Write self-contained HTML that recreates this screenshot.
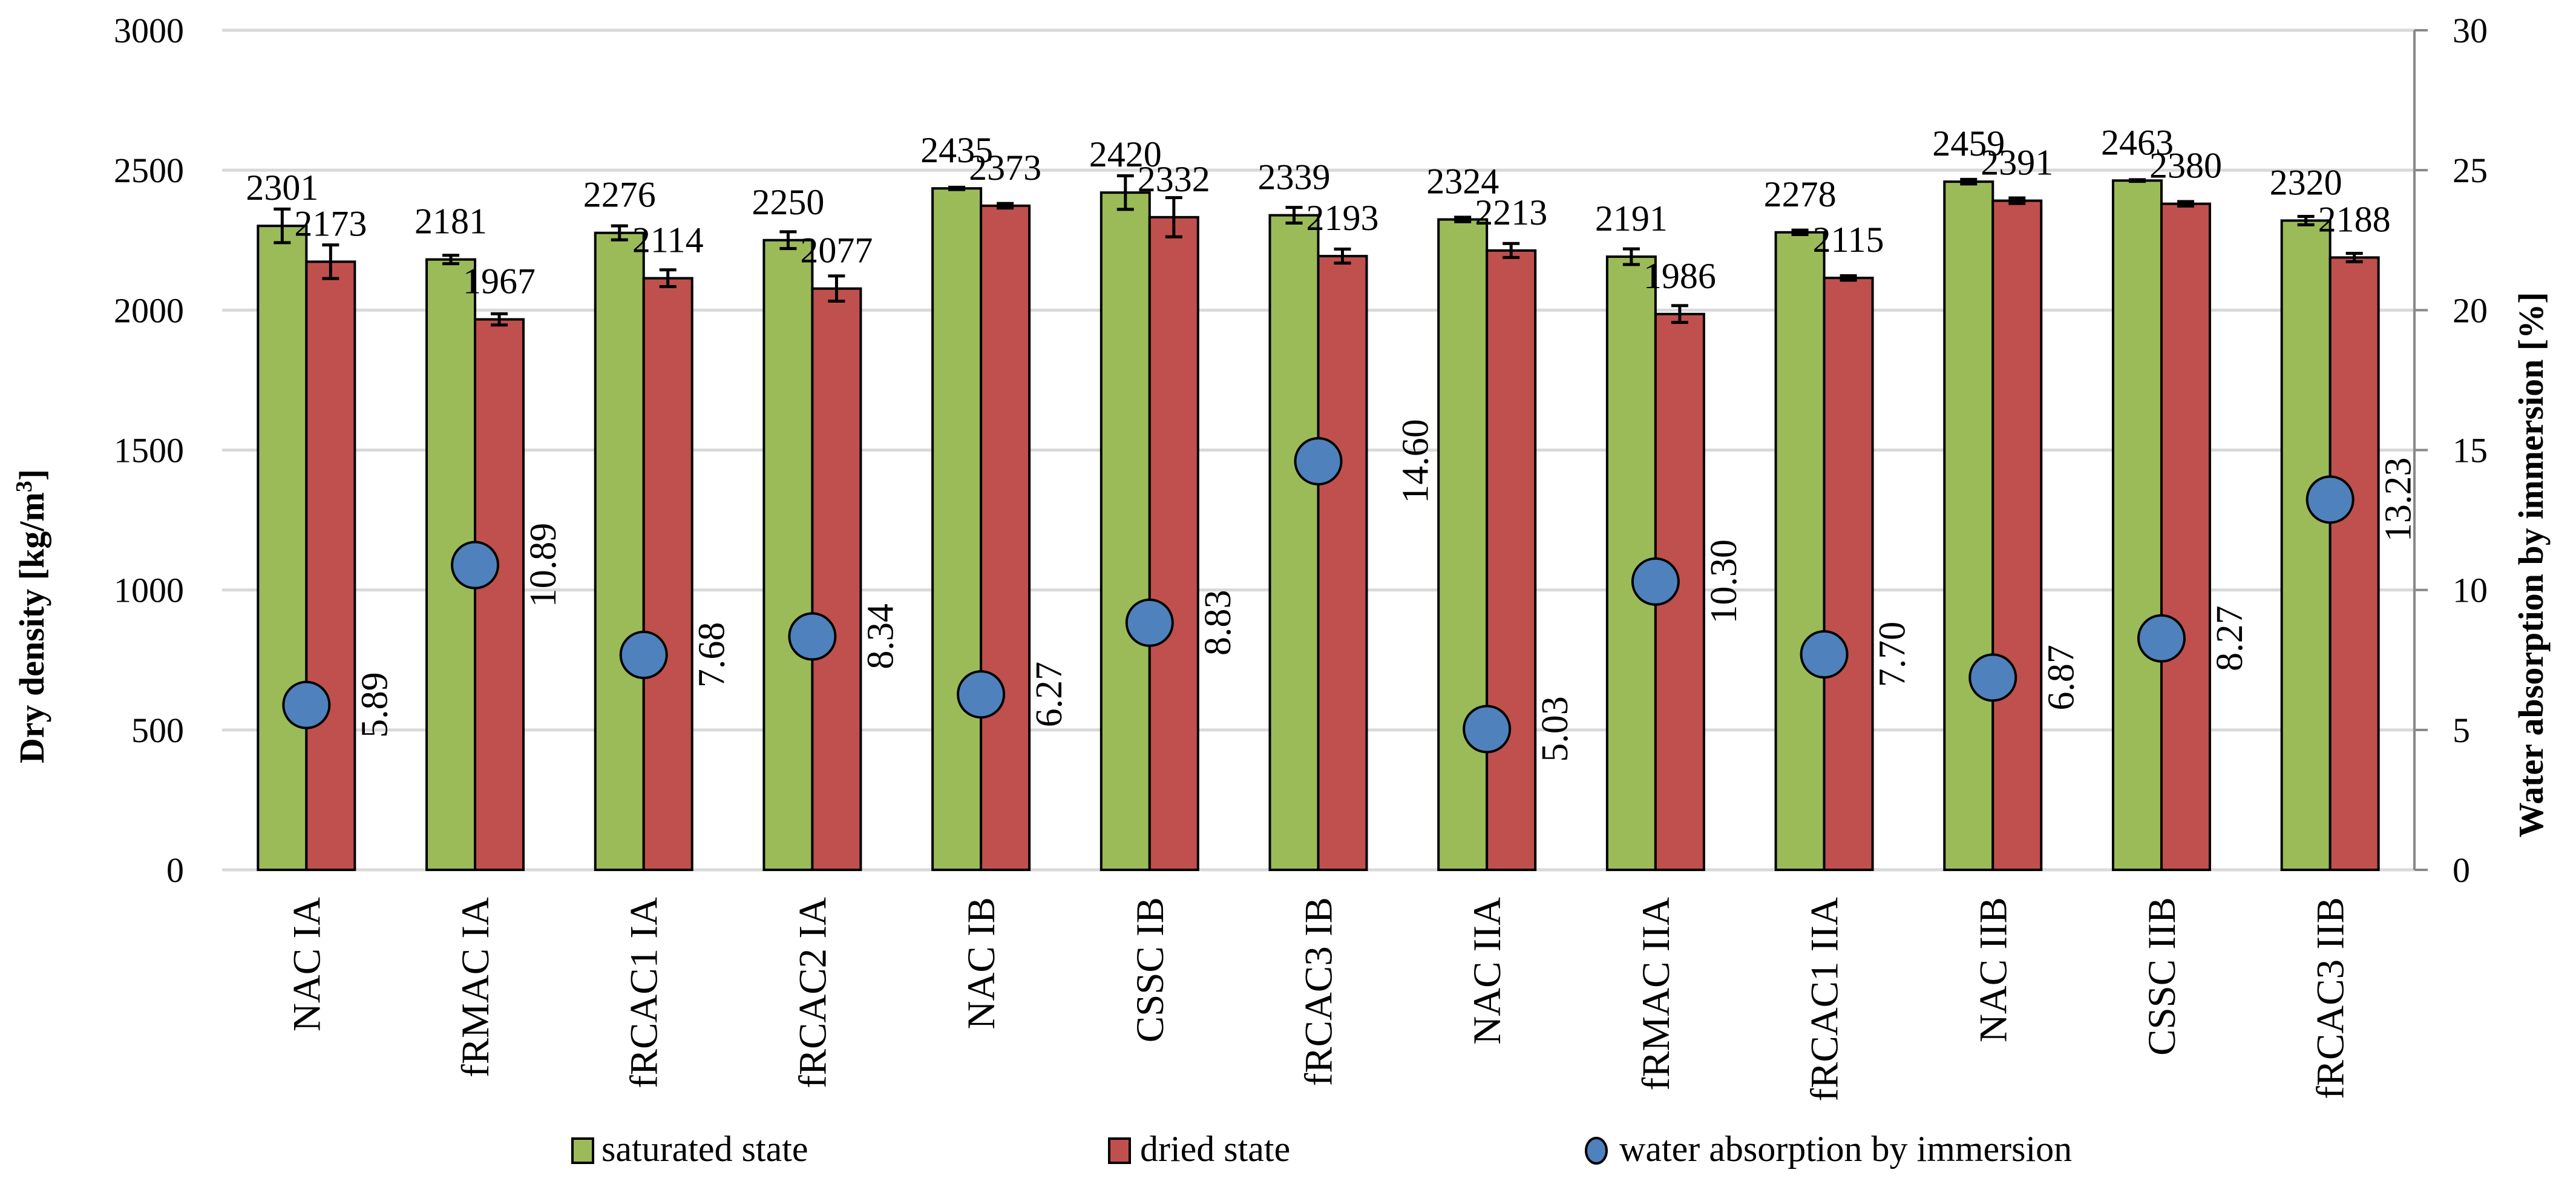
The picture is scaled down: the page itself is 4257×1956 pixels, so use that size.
<!DOCTYPE html>
<html><head><meta charset="utf-8"><style>
html,body{margin:0;padding:0;background:#fff;}
svg{display:block;font-family:"Liberation Serif",serif;}
svg text{font-family:"Liberation Serif",serif;}
</style></head><body>
<svg id="chart" width="4257" height="1956" viewBox="0 0 4257 1956" font-family="Liberation Serif, serif" xmlns="http://www.w3.org/2000/svg">
<g id="grid"></g>
<g id="bars"></g>
<g id="marks"></g>
<g id="labels"></g>
<text font-family="Liberation Serif, serif" transform="translate(72,1018) rotate(-90)" text-anchor="middle" font-size="58" font-weight="bold">Dry density [kg/m<tspan font-size="38" dy="-20">3</tspan><tspan dy="20">]</tspan></text>
<text font-family="Liberation Serif, serif" transform="translate(4202,933) rotate(-90)" text-anchor="middle" font-size="58" font-weight="bold">Water absorption by immersion [%]</text>
<g>
<rect x="946" y="1881" width="34" height="40" fill="#9bbb59" stroke="#000" stroke-width="4"/>
<text font-family="Liberation Serif, serif" x="994" y="1918" font-size="60">saturated state</text>
<rect x="1833" y="1881" width="34" height="40" fill="#c0504d" stroke="#000" stroke-width="4"/>
<text font-family="Liberation Serif, serif" x="1884" y="1918" font-size="60">dried state</text>
<ellipse cx="2638" cy="1901" rx="17" ry="21" fill="#4f81bd" stroke="#000" stroke-width="4"/>
<text font-family="Liberation Serif, serif" x="2676" y="1918" font-size="60">water absorption by immersion</text>
</g>
</svg>
<script>
const categories=["NAC IA","fRMAC IA","fRCAC1 IA","fRCAC2 IA","NAC IB","CSSC IB","fRCAC3 IB","NAC IIA","fRMAC IIA","fRCAC1 IIA","NAC IIB","CSSC IIB","fRCAC3 IIB"];
const saturated=[2301,2181,2276,2250,2435,2420,2339,2324,2191,2278,2459,2463,2320];
const dried=[2173,1967,2114,2077,2373,2332,2193,2213,1986,2115,2391,2380,2188];
const satErr=[60,15,25,30,4,60,28,8,28,8,8,3,15];
const dryErr=[60,20,30,45,8,70,25,25,30,8,10,8,15];
const absorption=[5.89,10.89,7.68,8.34,6.27,8.83,14.60,5.03,10.30,7.70,6.87,8.27,13.23];
const absLabels=["5.89","10.89","7.68","8.34","6.27","8.83","14.60","5.03","10.30","7.70","6.87","8.27","13.23"];
const yTicks=[0,500,1000,1500,2000,2500,3000];
const y2Ticks=[0,5,10,15,20,25,30];

const NS="http://www.w3.org/2000/svg";
const L=367,R=3990,T=50,B=1437;
const step=(R-L)/categories.length, bw=80;
const y=v=>B-(v/3000)*(B-T);
const y2=v=>B-(v/30)*(B-T);
const cx=i=>L+step*(i+0.5);
function mk(tag,attrs,parent,txt){const e=document.createElementNS(NS,tag);for(const k in attrs)e.setAttribute(k,attrs[k]);if(tag==='text')e.setAttribute('font-family','Liberation Serif, serif');if(txt!==undefined)e.textContent=txt;parent.appendChild(e);return e;}
const grid=document.getElementById('grid'),bars=document.getElementById('bars'),marks=document.getElementById('marks'),labels=document.getElementById('labels');

yTicks.forEach(t=>{
  const g=mk('line',{x1:L,x2:R,y1:y(t),y2:y(t),stroke:'#d9d9d9','stroke-width':5},grid);
  
  
  const tx=mk('text',{x:304,y:y(t)+20,'text-anchor':'end','font-size':58},labels,String(t));
  
  
});
const ax=mk('line',{x1:R,x2:R,y1:T,y2:B,stroke:'#888','stroke-width':4},grid);


y2Ticks.forEach(t=>{
  const tk=mk('line',{x1:R,x2:R+22,y1:y2(t),y2:y2(t),stroke:'#888','stroke-width':4},grid);
  
  
  const tx=mk('text',{x:4053,y:y2(t)+20,'font-size':58},labels,String(t));
  
  
});

function errBar(x,v,e,name){
  const g=mk('g',{stroke:'#000','stroke-width':5},marks);
  
  
  mk('line',{x1:x,x2:x,y1:y(v+e),y2:y(v-e)},g);
  mk('line',{x1:x-14,x2:x+14,y1:y(v+e),y2:y(v+e)},g);
  mk('line',{x1:x-14,x2:x+14,y1:y(v-e),y2:y(v-e)},g);
}

categories.forEach((c,i)=>{
  const x=cx(i);
  const gs=mk('rect',{x:x-bw,y:y(saturated[i]),width:bw,height:B-y(saturated[i]),fill:'#9bbb59',stroke:'#000','stroke-width':4},bars);
  
  
  const rd=mk('rect',{x:x,y:y(dried[i]),width:bw,height:B-y(dried[i]),fill:'#c0504d',stroke:'#000','stroke-width':4},bars);
  
  
  errBar(x-bw/2,saturated[i],satErr[i],'error-bar-saturated-'+i);
  errBar(x+bw/2,dried[i],dryErr[i],'error-bar-dried-'+i);
  const ls=mk('text',{x:x-bw/2,y:y(saturated[i])-43,'text-anchor':'middle','font-size':60},labels,String(saturated[i]));
  
  
  const lr=mk('text',{x:x+bw/2,y:y(dried[i])-43,'text-anchor':'middle','font-size':60},labels,String(dried[i]));
  
  
  const m=mk('circle',{cx:x,cy:y2(absorption[i]),r:38,fill:'#4f81bd',stroke:'#000','stroke-width':4},marks);
  
  
  const off=(i===6)?161:113;
  const la=mk('text',{transform:`translate(${x+off+20},${y2(absorption[i])}) rotate(-90)`,'text-anchor':'middle','font-size':62},labels,absLabels[i]);
  
  
  const cl=mk('text',{transform:`translate(${x+22},1482) rotate(-90)`,'text-anchor':'end','font-size':65},labels,c);
  
  
});
</script>
</body></html>
